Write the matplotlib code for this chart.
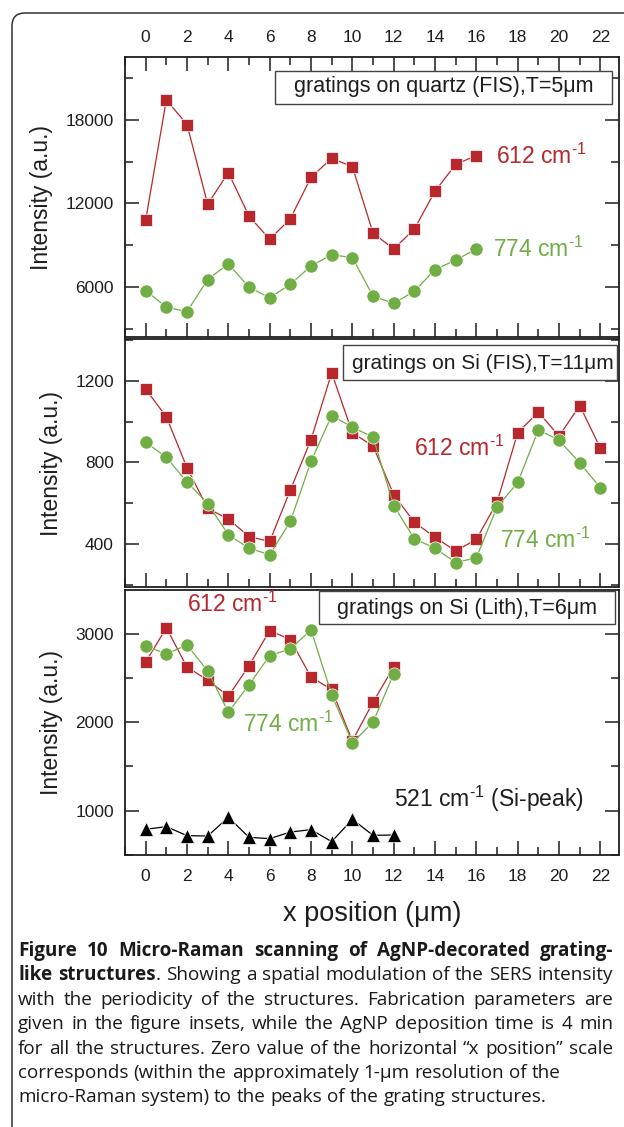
import numpy as np
import matplotlib
matplotlib.use('Agg')
import matplotlib.pyplot as plt
from matplotlib.patches import FancyBboxPatch, Rectangle
from matplotlib.ticker import MultipleLocator

# ---------------- data ----------------
x_top = np.arange(17)
top_612 = [10800, 19430, 17660, 11950, 14210, 11100, 9430, 10910, 13880,
           15240, 14640, 9880, 8740, 10170, 12880, 14810, 15430]
top_774 = [5760, 4570, 4240, 6550, 7670, 6000, 5240, 6210, 7520,
           8330, 8120, 5360, 4840, 5710, 7260, 7950, 8740]

x_mid = np.arange(23)
mid_612 = [1159, 1024, 774, 575, 523, 437, 413, 665, 912, 1239, 945, 881,
           642, 507, 434, 366, 424, 605, 946, 1047, 929, 1079, 870]
mid_774 = [898, 826, 704, 599, 446, 380, 348, 511, 806, 1030, 973, 924,
           589, 426, 380, 310, 333, 582, 702, 960, 909, 798, 676]

x_bot = np.arange(13)
bot_612 = [2682, 3068, 2625, 2477, 2295, 2640, 3038, 2936, 2511, 2371, 1788, 2227, 2625]
bot_774 = [2864, 2773, 2875, 2580, 2114, 2424, 2754, 2830, 3045, 2311, 1769, 2000, 2549]
bot_521 = [788, 818, 716, 712, 924, 697, 682, 757, 784, 648, 901, 720, 723]

insets = ['gratings on quartz (FIS),T=5\u03bcm',
          'gratings on Si (FIS),T=11\u03bcm',
          'gratings on Si (Lith),T=6\u03bcm']

cap_lines = [
    [("Figure 10 Micro-Raman scanning of AgNP-decorated grating-", "bold")],
    [("like structures", "bold"), (". Showing a spatial modulation of the SERS intensity", "normal")],
    [("with the periodicity of the structures. Fabrication parameters are", "normal")],
    [("given in the figure insets, while the AgNP deposition time is 4 min", "normal")],
    [("for all the structures. Zero value of the horizontal \u201cx position\u201d scale", "normal")],
    [("corresponds (within the approximately 1-\u03bcm resolution of the", "normal")],
    [("micro-Raman system) to the peaks of the grating structures.", "normal")],
]
cap_justify = [True, True, True, True, True, False, False]

# ---------------- style ----------------
plt.rcParams['font.family'] = ['Liberation Sans', 'DejaVu Sans']
plt.rcParams['mathtext.fontset'] = 'custom'
plt.rcParams['mathtext.rm'] = 'Liberation Sans'
plt.rcParams['mathtext.it'] = 'Liberation Sans:italic'
plt.rcParams['mathtext.bf'] = 'Liberation Sans:bold'

RED = '#B8272C'
GREEN = '#70AE45'
INK = '#1e1e1e'

W, H = 624, 1127
fig = plt.figure(figsize=(W / 100, H / 100), dpi=100)

# rounded frame around figure + caption
frame = FancyBboxPatch((0.12, -0.5), 7.0, (H - 13) / 100 + 0.5,
                       boxstyle='round,pad=0,rounding_size=0.13',
                       transform=fig.dpi_scale_trans, fill=False,
                       ec='#333333', lw=1.1)
fig.patches.append(frame)


def rect(top, bottom):
    return [125 / W, 1 - bottom / H, (619 - 125) / W, (bottom - top) / H]


ax1 = fig.add_axes(rect(57, 337))
ax2 = fig.add_axes(rect(339, 587))
ax3 = fig.add_axes(rect(590, 855))

for ax in (ax1, ax2, ax3):
    ax.set_xlim(-1, 22.9)
    ax.xaxis.set_major_locator(MultipleLocator(2))
    ax.xaxis.set_minor_locator(MultipleLocator(1))
    ax.tick_params(which='both', direction='in', left=True, right=True,
                   bottom=True, top=False, labelbottom=False,
                   colors=INK, labelsize=12.5)
    ax.tick_params(which='major', length=10, width=1.1)
    ax.tick_params(which='minor', length=6, width=1.1)
    ax.tick_params(axis='x', pad=10)
    ax.tick_params(axis='y', pad=8)
    for s in ax.spines.values():
        s.set_linewidth(1.3)
        s.set_color(INK)
    ax.set_ylabel('Intensity (a.u.)', fontsize=16.5, color=INK, labelpad=9)

ax1.tick_params(which='both', top=True, labeltop=True)
ax1.tick_params(axis='x', pad=9)
ax3.tick_params(which='both', labelbottom=True)

ms_kw = dict(lw=0.9, mec='white', mew=0.5)

# top panel
ax1.plot(x_top, top_612, '-s', color=RED, ms=8.8, **ms_kw)
ax1.plot(x_top, top_774, '-o', color=GREEN, ms=9.5, **ms_kw)
ax1.set_ylim(2430, 22500)
ax1.yaxis.set_major_locator(MultipleLocator(6000))
ax1.yaxis.set_minor_locator(MultipleLocator(3000))
ax1.text(0.751, 0.646, r'612 cm$^{\text{-1}}$', color=RED, fontsize=16.5,
         transform=ax1.transAxes, va='center')
ax1.text(0.745, 0.314, r'774 cm$^{\text{-1}}$', color=GREEN, fontsize=16.5,
         transform=ax1.transAxes, va='center')

# middle panel
ax2.plot(x_mid, mid_612, '-s', color=RED, ms=8.8, **ms_kw)
ax2.plot(x_mid, mid_774, '-o', color=GREEN, ms=9.5, **ms_kw)
ax2.set_ylim(190, 1405)
ax2.yaxis.set_major_locator(MultipleLocator(400))
ax2.yaxis.set_minor_locator(MultipleLocator(200))
ax2.text(0.585, 0.560, r'612 cm$^{\text{-1}}$', color=RED, fontsize=16.5,
         transform=ax2.transAxes, va='center')
ax2.text(0.759, 0.190, r'774 cm$^{\text{-1}}$', color=GREEN, fontsize=16.5,
         transform=ax2.transAxes, va='center')

# bottom panel
ax3.plot(x_bot, bot_612, '-s', color=RED, ms=8.8, **ms_kw)
ax3.plot(x_bot, bot_774, '-o', color=GREEN, ms=9.5, **ms_kw)
ax3.plot(x_bot, bot_521, '-^', color='black', ms=10.5, **ms_kw)
ax3.set_ylim(497, 3497)
ax3.yaxis.set_major_locator(MultipleLocator(1000))
ax3.yaxis.set_minor_locator(MultipleLocator(500))
ax3.text(0.1255, 0.947, r'612 cm$^{\text{-1}}$', color=RED, fontsize=16.5,
         transform=ax3.transAxes, va='center')
ax3.text(0.239, 0.494, r'774 cm$^{\text{-1}}$', color=GREEN, fontsize=16.5,
         transform=ax3.transAxes, va='center')
ax3.text(0.545, 0.211, r'521 cm$^{\text{-1}}$ (Si-peak)', color=INK, fontsize=16.5,
         transform=ax3.transAxes, va='center')
ax3.set_xlabel('x position (\u03bcm)', fontsize=19.5, color=INK, labelpad=12)

# inset boxes: (axes, x0, y0, x1, y1, text x, text y, size)
for ax, (bx0, by0, bx1, by1, tx, ty, fs), label in zip(
        (ax1, ax2, ax3),
        [(0.304, 0.833, 0.986, 0.951, 0.645, 0.893, 15.5),
         (0.441, 0.835, 0.996, 0.976, 0.724, 0.900, 15.0),
         (0.393, 0.872, 0.992, 0.996, 0.692, 0.930, 15.5)],
        insets):
    ax.add_patch(Rectangle((bx0, by0), bx1 - bx0, by1 - by0, transform=ax.transAxes,
                           fc='white', ec='#444444', lw=1.0, zorder=5))
    ax.text(tx, ty, label, transform=ax.transAxes, ha='center', va='center',
            fontsize=fs, color=INK, zorder=6)

# ---------------- caption (justified) ----------------
cap_font = ['Open Sans', 'DejaVu Sans']
cap_size = 13.6
cap_x0, cap_x1 = 18, 613
cap_y0, cap_dy = 956, 24.4
renderer = fig.canvas.get_renderer()


def text_width(txt, wt):
    t = fig.text(0, 0, txt, fontsize=cap_size, fontweight=wt, family=cap_font)
    w = t.get_window_extent(renderer).width
    t.remove()
    return w


for i, parts in enumerate(cap_lines):
    words = []
    for k, (s, wt) in enumerate(parts):
        for j, p in enumerate(s.split(' ')):
            if p == '':
                continue
            if j == 0 and k > 0 and not s.startswith(' '):
                words[-1].append((p, wt))
            else:
                words.append([(p, wt)])
    widths = [[text_width(t, wt) for t, wt in w] for w in words]
    total = sum(sum(ws) for ws in widths)
    if cap_justify[i]:
        gap = (cap_x1 - cap_x0 - total) / (len(words) - 1)
    else:
        gap = 0.26 * cap_size * 100 / 72
    x = cap_x0
    y = cap_y0 + i * cap_dy
    for w, ws in zip(words, widths):
        for (t, wt), wd in zip(w, ws):
            fig.text(x / W, 1 - y / H, t, fontsize=cap_size, fontweight=wt,
                     family=cap_font, color='#1a1a1a', va='baseline')
            x += wd
        x += gap

fig.savefig('out.png', dpi=100)
